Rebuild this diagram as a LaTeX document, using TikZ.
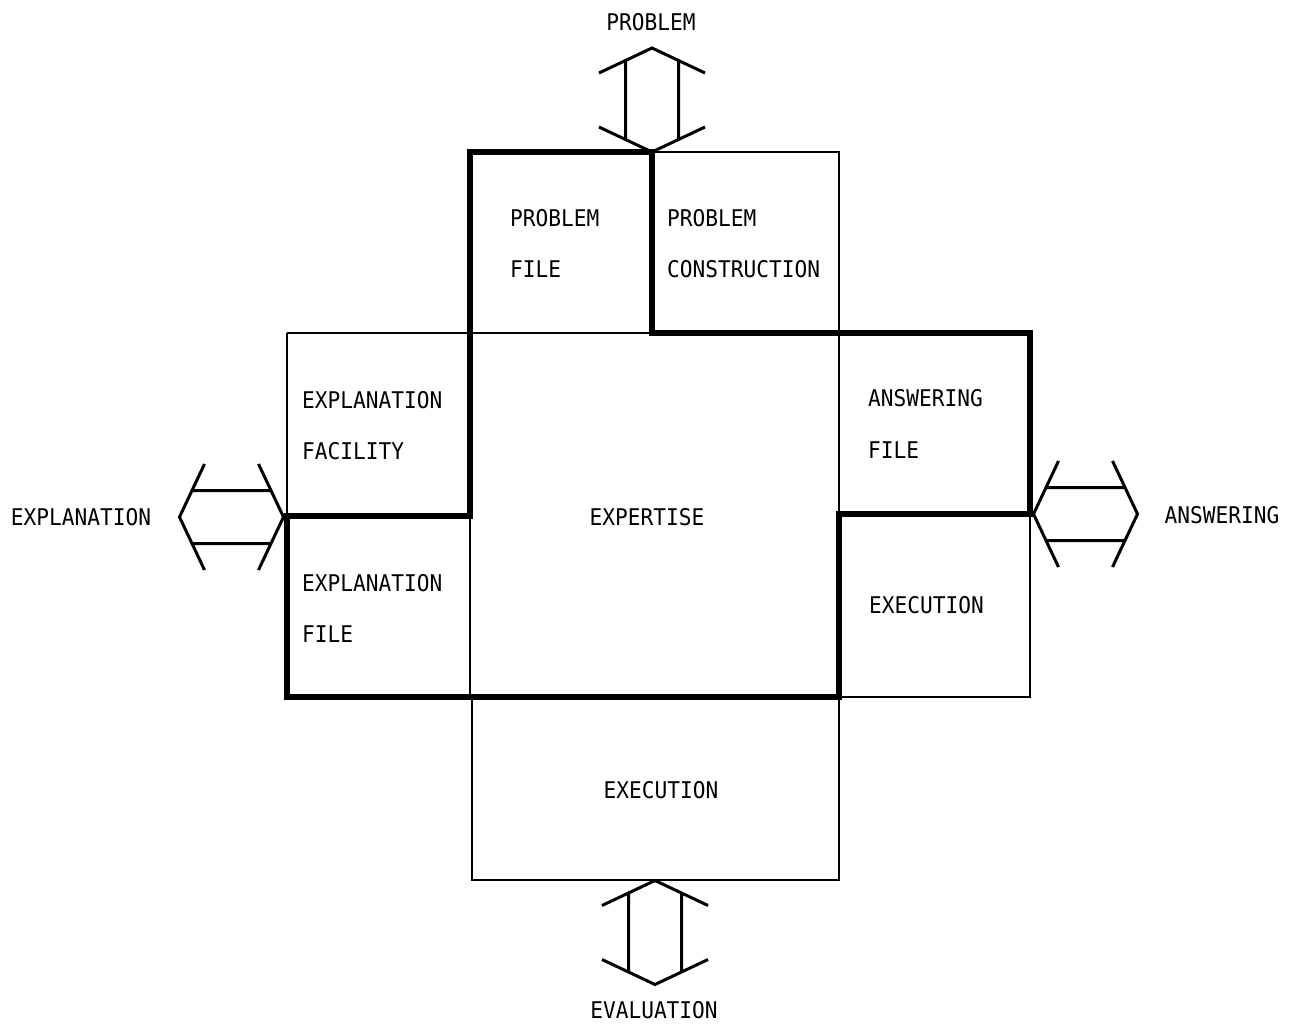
\documentclass[tikz,border=0pt]{standalone}
\usepackage{fontspec}
\setmainfont{DejaVu Sans Mono}[FakeStretch=0.92]
\begin{document}
\begin{tikzpicture}[x=1pt,y=-1pt,
  thinline/.style={line width=2pt},
  thickline/.style={line width=6pt,line join=miter},
  lbl/.style={anchor=west,inner sep=0pt,font=\fontsize{23}{27}\selectfont},
  clbl/.style={anchor=center,inner sep=0pt,font=\fontsize{23}{27}\selectfont},
  pics/dblarrow/.style={code={
    \draw[line width=3pt]
      (-53,-27)--(0,-52)--(53,-27)
      (-53,27)--(0,52)--(53,27)
      (-26.5,-39.5)--(-26.5,39.5)
      (26.5,-39.5)--(26.5,39.5);
  }}]
\useasboundingbox (0,0) rectangle (1295,1026);

% grid corners
\coordinate (pfTL) at (470,152);
\coordinate (pfTR) at (652,152);
\coordinate (pcTR) at (839,152);
\coordinate (efTL) at (287,333);

% thin module borders
\draw[thinline] (pfTR) -- (pcTR) -- (839,333);
\draw[thinline] (efTL) -- (1030,333);
\draw[thinline] (efTL) -- (287,697);
\draw[thinline] (470,333) -- (470,697);
\draw[thinline] (839,333) -- (839,697) -- (1030,697) -- (1030,333);
\draw[thinline] (472,697) -- (472,880) -- (839,880) -- (839,697);

% heavy outline of the expertise region
\draw[thickline] (287,697) -- (287,516) -- (470,516) -- (pfTL)
  -- (pfTR) -- (652,333) -- (1030,333) -- (1030,514)
  -- (839,514) -- (839,697) -- cycle;

% double-headed exchange arrows
\pic at (652,100) {dblarrow};
\pic at (655,932.5) {dblarrow};
\pic[rotate=90] at (231.5,517) {dblarrow};
\pic[rotate=90] at (1085.5,514) {dblarrow};

% module labels
\node[lbl] (pf1) at (510,218) {PROBLEM};
\node[lbl] (pf2) at (510,269) {FILE};
\node[lbl] (pc1) at (667,218) {PROBLEM};
\node[lbl] (pc2) at (667,269) {CONSTRUCTION};
\node[lbl] (ef1) at (302,400) {EXPLANATION};
\node[lbl] (ef2) at (302,451) {FACILITY};
\node[lbl] (ex1) at (302,583) {EXPLANATION};
\node[lbl] (ex2) at (302,634) {FILE};
\node[clbl] (exp) at (647,517) {EXPERTISE};
\node[lbl] (an1) at (868,398) {ANSWERING};
\node[lbl] (an2) at (868,450) {FILE};
\node[lbl] (exr) at (869,605) {EXECUTION};
\node[clbl] (exb) at (661,790) {EXECUTION};

% external labels
\node[clbl] (tprob) at (651,22) {PROBLEM};
\node[clbl] (beval) at (654,1010) {EVALUATION};
\node[clbl] (lexpl) at (81,517) {EXPLANATION};
\node[clbl] (ransw) at (1222,515) {ANSWERING};
\end{tikzpicture}
\end{document}
